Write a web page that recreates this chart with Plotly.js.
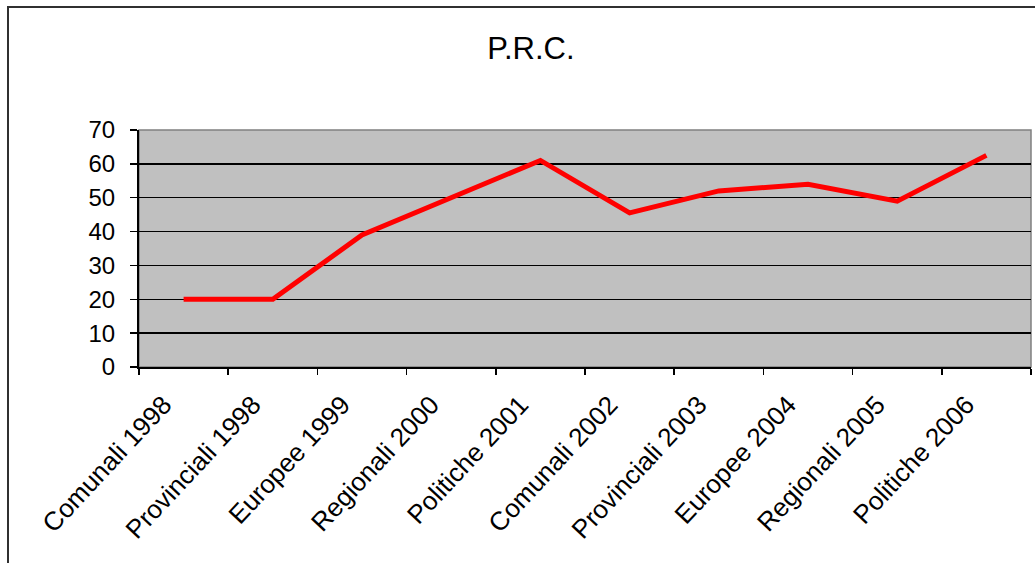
<!DOCTYPE html>
<html>
<head>
<meta charset="utf-8">
<script src="https://cdn.plot.ly/plotly-3.0.1.min.js"></script>
<style>
html, body { margin: 0; padding: 0; background: #ffffff; }
#chart { width: 1035px; height: 563px; }
</style>
</head>
<body>
<div id="chart"></div>
<script>
const categories = ["Comunali 1998", "Provinciali 1998", "Europee 1999", "Regionali 2000", "Politiche 2001",
                    "Comunali 2002", "Provinciali 2003", "Europee 2004", "Regionali 2005", "Politiche 2006"];
const prcValues = [20, 20, 39, 50, 61, 45.5, 52, 54, 49, 62.5];
const yTicks = [0, 10, 20, 30, 40, 50, 60, 70];
const chartTitle = "P.R.C.";

const fontFamily = "Arial, 'Liberation Sans', sans-serif";

const trace = {
  type: "scatter",
  mode: "lines",
  x: categories,
  y: prcValues,
  line: { color: "#ff0000", width: 5, shape: "linear" },
  hoverinfo: "x+y"
};

const layout = {
  width: 1035,
  height: 563,
  margin: { l: 139, r: 4, t: 130, b: 196, pad: 0 },
  paper_bgcolor: "#ffffff",
  plot_bgcolor: "#c0c0c0",
  showlegend: false,
  font: { family: fontFamily, color: "#000000", size: 23 },
  title: {
    text: chartTitle,
    font: { family: fontFamily, size: 31, color: "#000000" },
    xref: "container", yref: "container",
    x: 0.513, y: 1 - 48 / 563,
    xanchor: "center", yanchor: "middle"
  },
  xaxis: {
    type: "category",
    range: [-0.5, categories.length - 0.5],
    tickangle: -47,
    ticks: "outside",
    tickson: "boundaries",
    ticklen: 6,
    tickwidth: 1.5,
    tickcolor: "#000000",
    ticklabelshift: -20,
    ticklabelstandoff: 10,
    showline: true,
    linecolor: "#000000",
    linewidth: 2,
    showgrid: false,
    zeroline: false,
    tickfont: { family: fontFamily, size: 26, color: "#000000" },
    fixedrange: true
  },
  yaxis: {
    range: [0, 70],
    tickvals: yTicks,
    ticktext: yTicks.map(String),
    ticks: "outside",
    ticklen: 7,
    tickwidth: 1.5,
    tickcolor: "#000000",
    ticklabelstandoff: 10,
    showline: true,
    linecolor: "#000000",
    linewidth: 2,
    showgrid: true,
    gridcolor: "#000000",
    gridwidth: 1.5,
    zeroline: false,
    tickfont: { family: fontFamily, size: 24, color: "#000000" },
    fixedrange: true
  },
  shapes: [
    {
      type: "rect", xref: "paper", yref: "paper",
      x0: 0, x1: 1, y0: 0, y1: 1,
      line: { color: "#808080", width: 1.5 },
      layer: "below"
    },
    {
      type: "rect", xref: "paper", yref: "paper",
      x0: (8 - 139) / 892, x1: 1.2,
      y0: -1.2, y1: (367 - 7) / 237,
      line: { color: "#303030", width: 2 },
      fillcolor: "rgba(0,0,0,0)",
      layer: "above"
    }
  ]
};

Plotly.newPlot("chart", [trace], layout, { displayModeBar: false, staticPlot: true });
</script>
</body>
</html>
